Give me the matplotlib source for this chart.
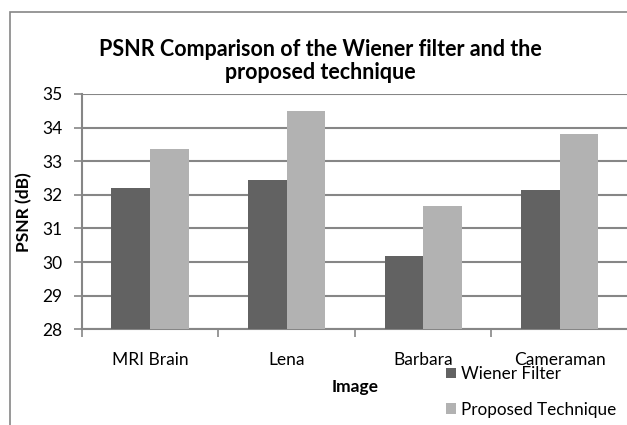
import matplotlib.pyplot as plt
from matplotlib.patches import Rectangle
import numpy as np

plt.rcParams["font.family"] = ["Lato", "DejaVu Sans"]

images = ["MRI Brain", "Lena", "Barbara", "Cameraman"]
wiener = [32.21, 32.44, 30.18, 32.14]
proposed = [33.37, 34.49, 31.68, 33.82]

W, H = 627, 425
fig = plt.figure(figsize=(W / 100, H / 100), dpi=100)
ax = fig.add_axes([81.7 / W, 1 - 329.3 / H, (628 - 81.7) / W, (329.3 - 94) / H])

grid_col = "#868686"
x = np.arange(len(images))
bw = 0.282
ax.bar(x - bw / 2, np.array(wiener) - 28, bw, bottom=28, color="#626262", label="Wiener Filter", zorder=3)
ax.bar(x + bw / 2, np.array(proposed) - 28, bw, bottom=28, color="#b2b2b2", label="Proposed Technique", zorder=3)

ax.set_xlim(-0.5, len(images) - 0.5)
ax.set_ylim(28, 35)
ax.set_yticks(range(28, 36))
ax.tick_params(axis="y", labelsize=12.5, length=6, color=grid_col, width=1.2, pad=8)
ax.set_xticks(x)
ax.set_xticklabels(images, fontsize=12.5)
ax.set_xticks(np.arange(len(images)) - 0.5, minor=True)
ax.tick_params(axis="x", which="major", length=0, pad=16)
ax.tick_params(axis="x", which="minor", length=6, color=grid_col, width=1.2)
ax.grid(axis="y", color=grid_col, linewidth=1.5, zorder=0)

for s in ["top", "right"]:
    ax.spines[s].set_visible(False)
for s in ["left", "bottom"]:
    ax.spines[s].set_color(grid_col)
    ax.spines[s].set_linewidth(1.5)

ax.set_ylabel("PSNR (dB)", fontsize=12.5, fontweight="bold", labelpad=7)
ax.set_xlabel("Image", fontsize=12.5, fontweight="bold", labelpad=8)
fig.text(320 / W, 1 - 61 / H, "PSNR Comparison of the Wiener filter and the\nproposed technique",
         ha="center", va="center", fontsize=15.5, fontweight="bold", linespacing=1.15)

ax.legend(loc="upper left", bbox_to_anchor=(446 / W, 1 - 366 / H), bbox_transform=fig.transFigure,
          frameon=False, fontsize=12.3, handlelength=0.6, handleheight=0.6, handletextpad=0.25,
          labelspacing=1.15, borderpad=0, borderaxespad=0)

fig.patches.append(Rectangle((10 / W, -0.1), 1.2, 1.1 - 12 / H, transform=fig.transFigure,
                             fill=False, edgecolor=grid_col, linewidth=1.2))

fig.savefig("out.png", dpi=100)
